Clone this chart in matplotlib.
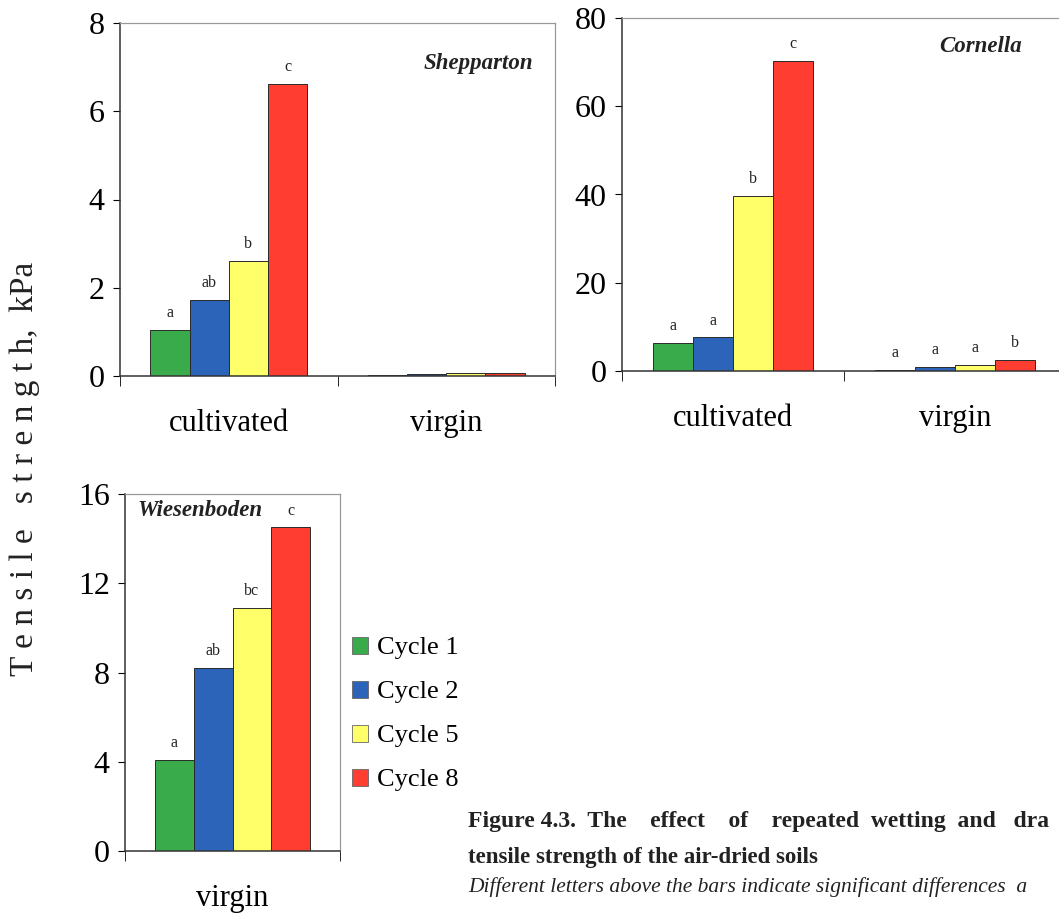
import numpy as np
import matplotlib
matplotlib.use("Agg")
import matplotlib.pyplot as plt
from matplotlib.patches import Patch

plt.rcParams["font.family"] = ["Liberation Serif", "DejaVu Serif"]

cycles = ["Cycle 1", "Cycle 2", "Cycle 5", "Cycle 8"]
colors = ["#3aab4b", "#2b64b9", "#ffff6a", "#ff3d30"]

shep_cats = ["cultivated", "virgin"]
shep_vals = [[1.05, 0.03], [1.72, 0.04], [2.60, 0.06], [6.62, 0.07]]
shep_letters = [["a", ""], ["ab", ""], ["b", ""], ["c", ""]]

corn_cats = ["cultivated", "virgin"]
corn_vals = [[6.3, 0.3], [7.6, 1.0], [39.6, 1.3], [70.3, 2.5]]
corn_letters = [["a", "a"], ["a", "a"], ["b", "a"], ["c", "b"]]

wies_cats = ["virgin"]
wies_vals = [[4.1], [8.2], [10.9], [14.5]]
wies_letters = [["a"], ["ab"], ["bc"], ["c"]]

W, H = 1059, 917
fig = plt.figure(figsize=(W / 100, H / 100), dpi=100)


def box(l, t, r, b):
    return [l / W, 1 - b / H, (r - l) / W, (b - t) / H]


def panel(rect, cats, vals, letters, ymax, step, name, name_xy, name_ha):
    ax = fig.add_axes(rect)
    n = len(cats)
    x = np.arange(n)
    w = 0.18
    for i in range(4):
        pos = x + (i - 1.5) * w
        ax.bar(pos, vals[i], w, color=colors[i], edgecolor="#2a2a2a",
               linewidth=0.7, zorder=2)
        for j in range(n):
            if letters[i][j]:
                ax.text(pos[j], vals[i][j] + ymax * 0.025, letters[i][j],
                        ha="center", va="bottom", fontsize=11.5, color="#222")
    ax.set_xlim(-0.5, n - 0.5)
    ax.set_ylim(0, ymax)
    ax.set_yticks(np.arange(0, ymax + 1, step))
    ax.set_xticks(x)
    ax.set_xticklabels(cats)
    ax.set_xticks(np.arange(n + 1) - 0.5, minor=True)
    ax.tick_params(axis="x", which="major", length=0, pad=24, labelsize=22)
    ax.tick_params(axis="x", which="minor", length=7, direction="out")
    ax.tick_params(axis="y", length=5, direction="out", labelsize=23, pad=6)
    for s in ["left", "bottom"]:
        ax.spines[s].set_color("#333")
        ax.spines[s].set_linewidth(1.1)
    for s in ["top", "right"]:
        ax.spines[s].set_color("#999")
        ax.spines[s].set_linewidth(0.9)
    ax.text(name_xy[0], name_xy[1], name, transform=ax.transAxes,
            ha=name_ha, va="center", fontsize=16.5, fontweight="bold",
            style="italic", color="#222")
    return ax


panel(box(120, 23, 555, 376), shep_cats, shep_vals, shep_letters, 8, 2,
      "Shepparton", (0.95, 0.885), "right")
panel(box(622, 18, 1066, 371), corn_cats, corn_vals, corn_letters, 80, 20,
      "Cornella", (0.9, 0.92), "right")
panel(box(125, 494, 340, 851), wies_cats, wies_vals, wies_letters, 16, 4,
      "Wiesenboden", (0.06, 0.955), "left")

handles = [Patch(facecolor=c, edgecolor="#666", linewidth=0.6) for c in colors]
fig.legend(handles, cycles, loc="center left",
           bbox_to_anchor=(328 / W, 1 - 714 / H), frameon=False,
           fontsize=19, handlelength=0.62, handleheight=0.62,
           handletextpad=0.35, labelspacing=0.8)

fig.text(25 / W, 1 - 469 / H, "T e n s i l e   s t r e n g t h,  kPa",
         rotation=90, ha="center", va="center", fontsize=24, color="#222")

fig.text(468 / W, 1 - 822 / H,
         "Figure 4.3.  The    effect    of    repeated  wetting  and   dra",
         ha="left", va="center", fontsize=17, fontweight="bold",
         color="#222")
fig.text(468 / W, 1 - 857 / H, "tensile strength of the air-dried soils",
         ha="left", va="center", fontsize=16.5, fontweight="bold",
         color="#222")
fig.text(468 / W, 1 - 887 / H,
         "Different letters above the bars indicate significant differences  a",
         ha="left", va="center", fontsize=15.5, style="italic", color="#222")

fig.savefig("out.png", dpi=100)
